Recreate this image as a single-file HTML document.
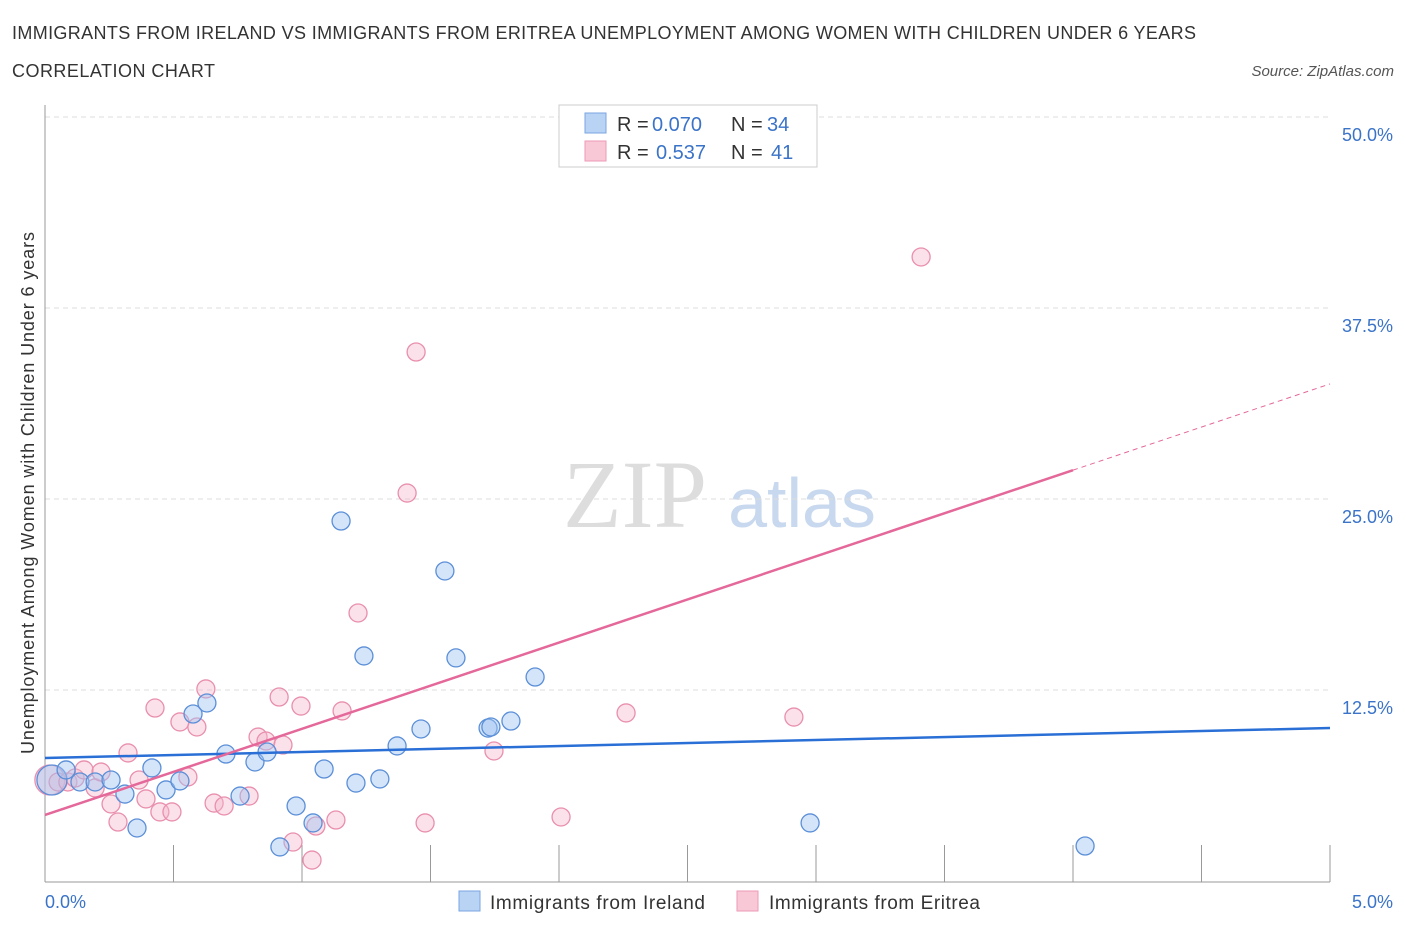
<!DOCTYPE html>
<html><head><meta charset="utf-8"><style>
body{margin:0;background:#fff;font-family:"Liberation Sans",sans-serif;}
</style></head><body>
<svg width="1406" height="930" xmlns="http://www.w3.org/2000/svg" id="chart">
<text x="12" y="39" font-size="18" fill="#333" textLength="1184">IMMIGRANTS FROM IRELAND VS IMMIGRANTS FROM ERITREA UNEMPLOYMENT AMONG WOMEN WITH CHILDREN UNDER 6 YEARS</text>
<text x="12" y="77" font-size="18" fill="#333" textLength="203">CORRELATION CHART</text>
<text x="1394" y="76" font-size="15" fill="#555" font-style="italic" text-anchor="end">Source: ZipAtlas.com</text>
<g>
<text x="635" y="527" font-size="96" fill="#ddd" font-family="Liberation Serif,serif" text-anchor="middle">ZIP</text>
<text x="802" y="527" font-size="70" fill="#c8d8ee" text-anchor="middle">atlas</text>
</g>
<g id="grid"></g>
<g id="axes"></g>
<g id="points"></g>
<g id="lines"></g>
<text transform="translate(34,493) rotate(-90)" font-size="18" fill="#333" text-anchor="middle" textLength="522">Unemployment Among Women with Children Under 6 years</text>
<g>
<rect x="559" y="105" width="258" height="62" fill="#fff" stroke="#ccc"/>
<rect x="585" y="113" width="21" height="20" fill="#b9d3f5" stroke="#7aa6e0"/>
<rect x="585" y="141" width="21" height="20" fill="#f9c8d7" stroke="#ec9ab5"/>
<text y="131" font-size="20" fill="#333"><tspan x="617">R =</tspan><tspan x="652" fill="#3a73c8">0.070</tspan><tspan x="731">N =</tspan><tspan x="767" fill="#3a73c8">34</tspan></text>
<text y="159" font-size="20" fill="#333"><tspan x="617">R =</tspan><tspan x="656" fill="#3a73c8">0.537</tspan><tspan x="731">N =</tspan><tspan x="771" fill="#3a73c8">41</tspan></text>
</g>
<g>
<rect x="459" y="891" width="21" height="20" fill="#b9d3f5" stroke="#7aa6e0"/>
<text x="490" y="909" font-size="19" fill="#333" textLength="215">Immigrants from Ireland</text>
<rect x="737" y="891" width="21" height="20" fill="#f9c8d7" stroke="#ec9ab5"/>
<text x="769" y="909" font-size="19" fill="#333" textLength="211">Immigrants from Eritrea</text>
</g>
</svg>
<script>
const yTicks=[12.5,25,37.5,50];
const yTickLabels=["12.5%","25.0%","37.5%","50.0%"];
const xTickVals=[0,0.5,1,1.5,2,2.5,3,3.5,4,4.5,5];
const xEndLabels=["0.0%","5.0%"];
const irelandX=[.027,.082,.136,.195,.257,.311,.358,.416,.471,.525,.576,.630,.704,.759,.817,.864,.914,.977,1.043,1.086,1.152,1.210,1.241,1.303,1.370,1.463,1.556,1.599,1.724,1.735,1.813,1.907,2.977,4.047];
const irelandY=[6.61,7.27,6.48,6.48,6.61,5.69,3.47,7.40,5.96,6.55,10.93,11.65,8.31,5.56,7.79,8.44,2.23,4.91,3.80,7.33,23.56,6.41,14.73,6.68,8.84,9.95,20.29,14.60,10.01,10.08,10.47,13.35,3.80,2.29];
const eritreaX=[.019,.051,.089,.117,.152,.195,.218,.257,.284,.323,.366,.393,.428,.447,.494,.525,.556,.591,.626,.658,.697,.794,.829,.860,.911,.926,.965,.996,1.039,1.054,1.132,1.156,1.218,1.409,1.444,1.479,1.747,2.008,2.261,2.914,3.409];
const eritreaY=[6.61,6.48,6.48,6.74,7.27,6.09,7.13,5.04,3.86,8.38,6.61,5.37,11.32,4.52,4.52,10.41,6.81,10.08,12.57,5.10,4.91,5.56,9.42,9.16,12.04,8.90,2.55,11.45,1.37,3.60,3.99,11.13,17.54,25.39,34.62,3.80,8.51,4.19,11.00,10.73,40.84];
const irelandFit=[8.05,10.01];
const eritreaFit=[4.32,32.53];
const eritreaSolidEnd=4.0;

const NS="http://www.w3.org/2000/svg";
const X=v=>45+v/5*1285;
const Y=v=>881-v/50*764;
function mk(tag,attrs,parent){const e=document.createElementNS(NS,tag);for(const k in attrs)e.setAttribute(k,attrs[k]);document.getElementById(parent).appendChild(e);return e;}
yTicks.forEach((t,i)=>{
  const g=mk('line',{x1:45,x2:1330,y1:Y(t),y2:Y(t),stroke:'#ddd','stroke-dasharray':'5,4'},'grid');
  
  
  const l=mk('text',{x:1393,y:Y(t)+24,'font-size':18,fill:'#3a73c8','text-anchor':'end'},'axes');
  l.textContent=yTickLabels[i];
  
  
});
const ya=mk('line',{x1:45,x2:45,y1:105,y2:882,stroke:'#999'},'axes');


const xa=mk('line',{x1:45,x2:1330,y1:882,y2:882,stroke:'#999'},'axes');


xTickVals.forEach(t=>{
  const tk=mk('line',{x1:X(t),x2:X(t),y1:882,y2:845,stroke:'#999'},'axes');
  
  
});
const l0=mk('text',{x:45,y:908,'font-size':18,fill:'#3a73c8'},'axes');l0.textContent=xEndLabels[0];


const l1=mk('text',{x:1393,y:908,'font-size':18,fill:'#3a73c8','text-anchor':'end'},'axes');l1.textContent=xEndLabels[1];


function pts(xs,ys,fill,stroke,name){
  xs.forEach((x,i)=>{
    const c=mk('circle',{cx:X(x),cy:Y(ys[i]),r:i===0?15:9,fill:fill,stroke:stroke,'stroke-width':1.3},'points');
    
    
  });
}
pts(eritreaX,eritreaY,'rgba(246,180,200,0.4)','#e98fae','eritrea-point');
pts(irelandX,irelandY,'rgba(160,196,242,0.45)','#5b8fd8','ireland-point');
const bl=mk('line',{x1:X(0),y1:Y(irelandFit[0]),x2:X(5),y2:Y(irelandFit[1]),stroke:'#2a6fd6','stroke-width':2.5},'lines');


const ye=eritreaFit[0]+(eritreaFit[1]-eritreaFit[0])*eritreaSolidEnd/5;
const pl=mk('line',{x1:X(0),y1:Y(eritreaFit[0]),x2:X(eritreaSolidEnd),y2:Y(ye),stroke:'#e4689a','stroke-width':2.5},'lines');


const pd=mk('line',{x1:X(eritreaSolidEnd),y1:Y(ye),x2:X(5),y2:Y(eritreaFit[1]),stroke:'#e4689a','stroke-width':1,'stroke-dasharray':'5,4'},'lines');


</script>
</body></html>
